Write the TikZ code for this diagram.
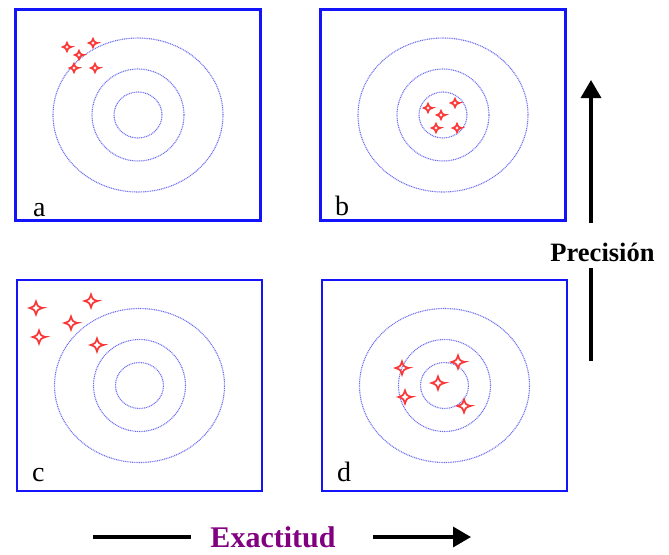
\documentclass[tikz,border=0pt]{standalone}
\usepackage{fontspec}
\setmainfont{Liberation Serif}
\usetikzlibrary{arrows.meta}
\definecolor{boxblue}{RGB}{20,20,250}
\definecolor{ringblue}{RGB}{110,110,240}
\definecolor{sparkred}{RGB}{250,55,55}
\definecolor{expurple}{RGB}{128,0,128}

\begin{document}
\begin{tikzpicture}[x=1pt, y=-1pt, >={Triangle[length=18pt,width=20pt]},
  panel/.style={draw=boxblue, line width=2.6pt, minimum width=245pt, minimum height=211pt, inner sep=0pt},
  ring/.style={draw=ringblue, line width=1.1pt, dash pattern=on 1pt off 0.8pt},
  spk/.style={draw=sparkred, line width=1.7pt},
  tag/.style={anchor=base west, inner sep=0pt, font=\fontsize{28}{28}\selectfont},
  axis/.style={line width=3.4pt},
  pics/spark/.style={code={
    \path[spk] (1,0) .. controls (0.25,0.25) .. (0,1) .. controls (-0.25,0.25) .. (-1,0)
      .. controls (-0.25,-0.25) .. (0,-1) .. controls (0.25,-0.25) .. cycle;}}]
\useasboundingbox (0,0) rectangle (669,554);

% the four targets
\node[panel] (pa) at (138,115) {};
\node[panel] (pb) at (443,115) {};
\node[panel] (pc) at (139.5,385.5) {};
\node[panel] (pd) at (444.5,385.5) {};
\foreach \p in {pa,pb,pc,pd}{
  \draw[ring] (\p) ellipse [x radius=85pt, y radius=77pt];
  \draw[ring] (\p) ellipse [x radius=46pt, y radius=46pt];
  \draw[ring] (\p) ellipse [x radius=24pt, y radius=23pt];
}

% shots
\foreach \x/\y in {67/47,93/43,79/55,74/68,95/68,428/108,455/103,441/115,436/128,457/128}
  \pic[scale=4.2] at (\x,\y) {spark};
\foreach \x/\y in {36/308,91/301,71/323,39/337,97/345,402/368,458/362,438/383,405/397,464/406}
  \pic[scale=6.5] at (\x,\y) {spark};

\node[tag] (la) at (33,216) {a};
\node[tag] (lb) at (335,215) {b};
\node[tag] (lc) at (32,481) {c};
\node[tag] (ld) at (337,481) {d};

% accuracy axis
\node[text=expurple, font=\fontsize{30}{30}\selectfont\bfseries, inner xsep=19pt] (ex) at (273,537) {Exactitud};
\coordinate (exA) at (93,537);
\coordinate (exB) at (373,537);
\coordinate (exC) at (471,537);
\draw[axis] (exA) -- (exA -| ex.west);
\draw[axis,->] (exB) -- (exC);

% precision axis
\node[font=\fontsize{26.5}{26.5}\selectfont\bfseries] (pr) at (602.5,252) {Precisión};
\coordinate (prA) at (591,223);
\coordinate (prB) at (591,80);
\coordinate (prC) at (591,268);
\coordinate (prD) at (591,361);
\draw[axis,->] (prA) -- (prB);
\draw[axis] (prC) -- (prD);
\end{tikzpicture}
\end{document}
